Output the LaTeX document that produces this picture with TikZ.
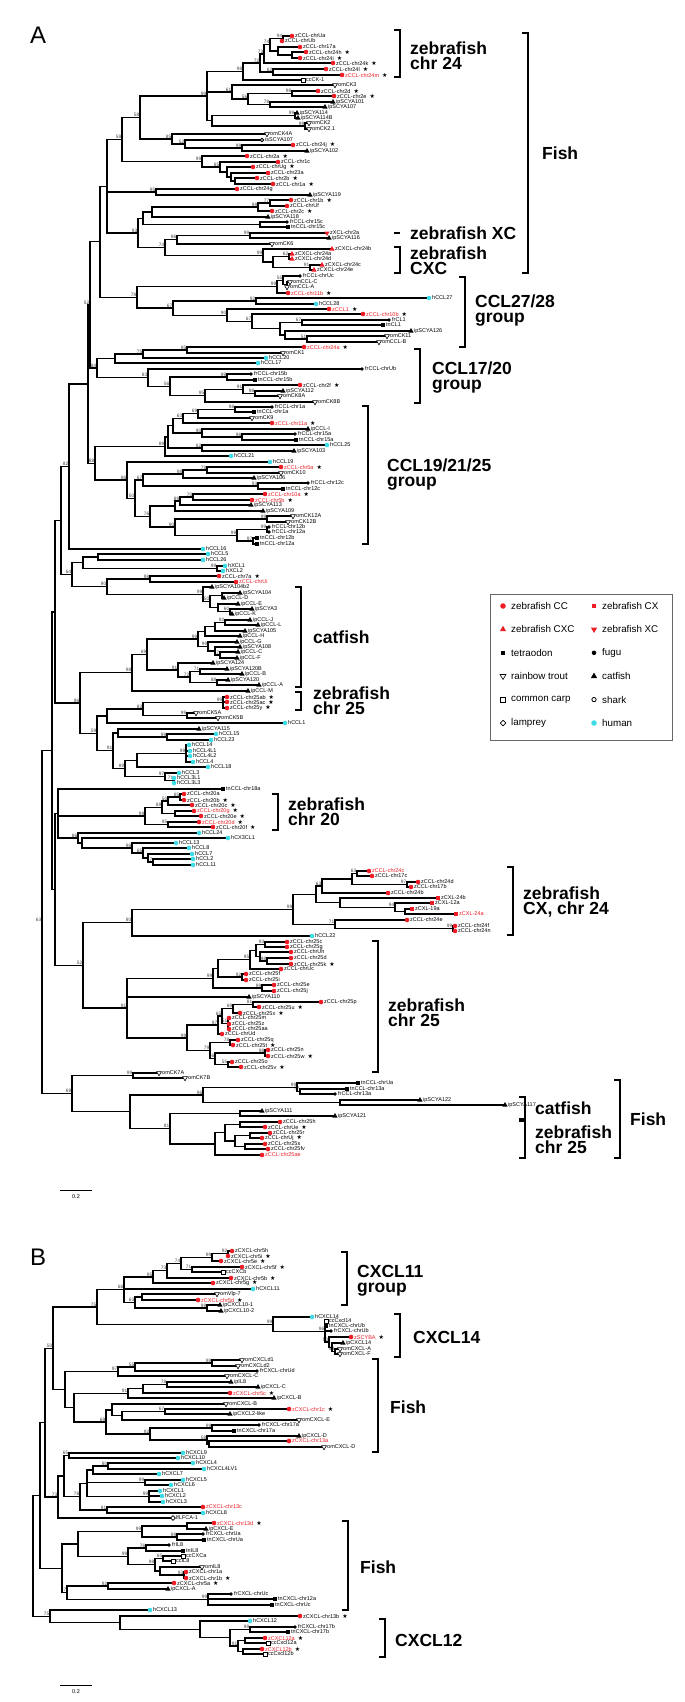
\documentclass[tikz,border=0pt]{standalone}
\usepackage{fontspec}
\setmainfont{Liberation Sans}
\newfontfamily\symfnt{DejaVu Sans}
\usetikzlibrary{calc, shapes.geometric}
\definecolor{zred}{HTML}{EE1C24}
\definecolor{hcyan}{HTML}{3CDCE6}
\definecolor{bsgray}{HTML}{444444}

% star after a leaf label
\newcommand\strk{\hspace{3pt}{\color{black}\symfnt\fontsize{6}{6}\selectfont ★}}
% internal node: name, x, bootstrap, first child, last child
\newcommand\clade[5]{%
  \path let \p1=($(#4)!.5!(#5)$) in (#2pt,\y1) coordinate (#1);
  \draw[br] (#1) |- (#4);
  \draw[br] (#1) |- (#5);
  \ifx\relax#3\relax\else\node[bs] (#1b) at (#1) {#3};\fi}
% group bracket: x, top, bottom
\newcommand\brk[3]{\draw[grpline] (#1-6,#2) -- (#1,#2) -- (#1,#3) -- (#1-6,#3);}

\def\leavesA{
a1/292/36/mzc/zCCL-chrUa/black, a2/282/41/mzc/zCCL-chrUb/black,
a3/300/47/mzc/zCCL-chr17a/black, a4/306/52/mzc/zCCL-chr24h\strk/black,
a5/300/58/mzc/zCCL-chr24i\strk/black, a6/333/63/mzc/zCCL-chr24k\strk/black,
a7/326/69/mzc/zCCL-chr24l\strk/black, a8/342/75/mzc/zCCL-chr24m\strk/zred,
a9/303/80/mcc/ccCK-1/black, a10/335/85/mom/omCK3/black,
a11/318/91/mzc/zCCL-chr2d\strk/black, a12/334/96/mzc/zCCL-chr2e\strk/black,
a13/333/102/mip/ipSCYA101/black, a14/325/107/mip/ipSCYA107/black,
a15/297/113/mip/ipSCYA114/black, a16/298/118/mip/ipSCYA114B/black,
a17/309/123/mom/omCK2/black, a18/309/129/mom/omCK2.1/black,
a19/267/134/mom/omCK4A/black, a20/262/140/msh/isSCYA107/black,
a21/293/145/mzc/zCCL-chr24j\strk/black, a22/307/151/mip/ipSCYA102/black,
a23/247/156/mzc/zCCL-chr2a\strk/black, a24/278/162/mzc/zCCL-chr1c/black,
a25/253/167/mzc/zCCL-chrUg\strk/black, a26/268/173/mzc/zCCL-chr23a/black,
a27/257/178/mzc/zCCL-chr2b\strk/black, a28/273/184/mzc/zCCL-chr1a\strk/black,
a29/237/189/mzc/zCCL-chr24g/black, a30/310/195/mip/ipSCYA119/black,
a31/291/200/mzc/zCCL-chr1b\strk/black, a32/287/206/mzc/zCCL-chrUf/black,
a33/272/211/mzc/zCCL-chr2c\strk/black, a34/268/217/mip/ipSCYA118/black,
a35/287/222/mfr/frCCL-chr15c/black, a36/288/227/mtn/tnCCL-chr15c/black,
a37/327/233/mzv/zXCL-chr2a/black, a38/329/238/mip/ipSCYA116/black,
a39/272/244/mom/omCK6/black, a40/332/249/mzt/zCXCL-chr24b/black,
a41/292/254/mzt/zCXCL-chr24a/black, a42/292/259/mzt/zCXCL-chr24d/black,
a43/322/265/mzt/zCXCL-chr24c/black, a44/314/270/mzt/zCXCL-chr24e/black,
a45/300/276/mfr/frCCL-chrUc/black, a46/290/282/mom/omCCL-C/black,
a47/287/287/mom/omCCL-A/black, a48/288/293/mzc/zCCL-chr11b\strk/zred,
a49/429/298/mhu/hCCL27/black, a50/316/304/mhu/hCCL28/black,
a51/329/309/mzc/zCCL1\strk/zred, a52/363/314/mzc/zCCL-chr10b\strk/zred,
a53/389/320/mfr/frCL1/black, a54/383/325/mtn/tnCL1/black,
a55/411/331/mip/ipSCYA126/black, a56/387/336/mom/omCK11/black,
a57/379/342/mom/omCCL-B/black, a58/304/347/mzc/zCCL-chr24a\strk/zred,
a59/283/353/mom/omCK1/black, a60/266/358/mhu/hCCL20/black,
a61/258/363/mhu/hCCL17/black, a62/362/369/mfr/frCCL-chrUb/black,
a63/251/374/mfr/frCCL-chr15b/black, a64/255/380/mtn/tnCCL-chr15b/black,
a65/300/385/mzc/zCCL-chr2f\strk/black, a66/283/391/mip/ipSCYA112/black,
a67/280/396/mom/omCK8A/black, a68/315/402/mom/omCK8B/black,
a69/272/407/mfr/frCCL-chr1a/black, a70/254/412/mtn/tnCCL-chr1a/black,
a71/252/418/mom/omCK9/black, a72/272/423/mzc/zCCL-chr11a\strk/zred,
a73/308/429/mip/ipCCL-I/black, a74/295/434/mfr/frCCL-chr15a/black,
a75/296/440/mtn/tnCCL-chr15a/black, a76/327/445/mhu/hCCL25/black,
a77/294/451/mip/ipSCYA103/black, a78/231/456/mhu/hCCL21/black,
a79/270/462/mhu/hCCL19/black, a80/281/467/mzc/zCCL-chr5a\strk/zred,
a81/281/473/mom/omCK10/black, a82/254/478/mip/ipSCYA106/black,
a83/308/483/mfr/frCCL-chr12c/black, a84/283/489/mtn/tnCCL-chr12c/black,
a85/265/494/mzc/zCCL-chr10a\strk/zred, a86/252/500/mzc/zCCL-chr5b\strk/zred,
a87/251/505/mip/ipSCYA113/black, a88/263/511/mip/ipSCYA109/black,
a89/293/516/mom/omCK12A/black, a90/288/522/mom/omCK12B/black,
a91/269/527/mfr/frCCL-chr12b/black, a92/269/532/mfr/frCCL-chr12a/black,
a93/257/538/mtn/tnCCL-chr12b/black, a94/257/544/mtn/tnCCL-chr12a/black,
a95/203/549/mhu/hCCL16/black, a96/208/554/mhu/hCCL5/black,
a97/203/560/mhu/hCCL26/black, a98/225/566/mhu/hXCL1/black,
a99/223/571/mhu/hXCL2/black, a100/219/576/mzc/zCCL-chr7a\strk/black,
a101/236/582/mzc/zCCL-chrUi/zred, a102/212/587/mip/ipSCYA104b2/black,
a103/240/593/mip/ipSCYA104/black, a104/224/598/mip/ipCCL-D/black,
a105/238/604/mip/ipCCL-E/black, a106/252/609/mip/ipSCYA3/black,
a107/232/614/mip/ipCCL-K/black, a108/250/620/mip/ipCCL-J/black,
a109/258/625/mip/ipCCL-L/black, a110/245/631/mip/ipSCYA105/black,
a111/240/636/mip/ipCCL-H/black, a112/237/642/mip/ipCCL-G/black,
a113/240/647/mip/ipSCYA108/black, a114/238/652/mip/ipCCL-C/black,
a115/237/658/mip/ipCCL-F/black, a116/213/663/mip/ipSCYA124/black,
a117/227/669/mip/ipSCYA120B/black, a118/242/674/mip/ipCCL-B/black,
a119/228/680/mip/ipSCYA120/black, a120/259/685/mip/ipCCL-A/black,
a121/248/691/mip/ipCCL-M/black, a122/227/697/mzc/zCCL-chr25ab\strk/black,
a123/227/702/mzc/zCCL-chr25ac\strk/black, a124/227/708/mzc/zCCL-chr25y\strk/black,
a125/196/713/mom/omCK5A/black, a126/218/718/mom/omCK5B/black,
a127/285/723/mhu/hCCL1/black, a128/199/729/mip/ipSCYA115/black,
a129/216/734/mhu/hCCL15/black, a130/211/740/mhu/hCCL23/black,
a131/189/745/mhu/hCCL14/black, a132/190/751/mhu/hCCL4L1/black,
a133/190/756/mhu/hCCL4L2/black, a134/193/762/mhu/hCCL4/black,
a135/208/767/mhu/hCCL18/black, a136/179/773/mhu/hCCL3/black,
a137/174/778/mhu/hCCL3L1/black, a138/174/783/mhu/hCCL3L3/black,
a139/223/789/mtn/tnCCL-chr18a/black, a140/184/794/mzc/zCCL-chr20a/black,
a141/184/800/mzc/zCCL-chr20b\strk/black, a142/192/805/mzc/zCCL-chr20c\strk/black,
a143/194/811/mzc/zCCL-chr20g\strk/zred, a144/201/816/mzc/zCCL-chr20e\strk/black,
a145/199/822/mzc/zCCL-chr20d\strk/zred, a146/213/827/mzc/zCCL-chr20f\strk/black,
a147/199/833/mhu/hCCL24/black, a148/228/838/mhu/hCX3CL1/black,
a149/176/843/mhu/hCCL13/black, a150/189/848/mhu/hCCL8/black,
a151/192/854/mhu/hCCL7/black, a152/193/859/mhu/hCCL2/black,
a153/193/865/mhu/hCCL11/black, a154/369/871/mzc/zCCL-chr24c/zred,
a155/372/876/mzc/zCCL-chr17c/black, a156/418/882/mzc/zCCL-chr24d/black,
a157/411/887/mzc/zCCL-chr17b/black, a158/388/893/mzc/zCCL-chr24b/black,
a159/438/898/mzx/zCXL-24b/black, a160/432/903/mzx/zCXL-12a/black,
a161/412/909/mzx/zCXL-19a/black, a162/456/914/mzx/zCXL-24a/zred,
a163/407/920/mzc/zCCL-chr24e/black, a164/455/926/mzc/zCCL-chr24f/black,
a165/455/931/mzc/zCCL-chr24n/black, a166/312/936/mhu/hCCL22/black,
a167/287/942/mzc/zCCL-chr25c/black, a168/287/947/mzc/zCCL-chr25g/black,
a169/291/952/mzc/zCCL-chrUh/black, a170/291/958/mzc/zCCL-chr25d/black,
a171/291/964/mzc/zCCL-chr25k\strk/black, a172/281/969/mzc/zCCL-chrUc/black,
a173/246/974/mzc/zCCL-chr25f/black, a174/246/980/mzc/zCCL-chr25i/black,
a175/274/985/mzc/zCCL-chr25e/black, a176/274/991/mzc/zCCL-chr25j/black,
a177/249/997/mip/ipSCYA110/black, a178/321/1002/mzc/zCCL-chr25p/black,
a179/259/1007/mzc/zCCL-chr25u\strk/black, a180/240/1013/mzc/zCCL-chr25x\strk/black,
a181/229/1018/mzc/zCCL-chr25m/black, a182/229/1024/mzc/zCCL-chr25z/black,
a183/229/1029/mzc/zCCL-chr25aa/black, a184/222/1034/mzc/zCCL-chrUd/black,
a185/238/1040/mzc/zCCL-chr25q/black, a186/233/1045/mzc/zCCL-chr25t\strk/black,
a187/268/1050/mzc/zCCL-chr25n/black, a188/268/1056/mzc/zCCL-chr25w\strk/black,
a189/232/1062/mzc/zCCL-chr25o/black, a190/241/1067/mzc/zCCL-chr25v\strk/black,
a191/159/1073/mom/omCK7A/black, a192/185/1078/mom/omCK7B/black,
a193/358/1083/mtn/tnCCL-chrUa/black, a194/347/1089/mtn/tnCCL-chr13a/black,
a195/335/1094/mfr/frCCL-chr13a/black, a196/420/1100/mip/ipSCYA122/black,
a197/505/1105/mip/ipSCYA117/black, a198/262/1111/mip/ipSCYA111/black,
a199/335/1116/mip/ipSCYA121/black, a200/280/1122/mzc/zCCL-chr25h/black,
a201/265/1127/mzc/zCCL-chrUe\strk/black, a202/270/1133/mzc/zCCL-chr25r/black,
a203/262/1138/mzc/zCCL-chrUj\strk/black, a204/265/1144/mzc/zCCL-chr25s/black,
a205/268/1149/mzc/zCCL-chr25fv/black, a206/262/1155/mzc/zCCL-chr25ae/zred}

\def\leavesB{
b1/232/1251/mzc/zCXCL-chr5h/black, b2/228/1256/mzc/zCXCL-chr5i\strk/black,
b3/221/1261/mzc/zCXCL-chr5e\strk/black, b4/242/1267/mzc/zCXCL-chr5f\strk/black,
b5/223/1272/mcc/ccCXCb/black, b6/231/1278/mzc/zCXCL-chr5b\strk/black,
b7/213/1283/mzc/zCXCL-chr5g\strk/black, b8/253/1289/mhu/hCXCL11/black,
b9/217/1294/mom/omVlp-7/black, b10/198/1300/mzc/zCXCL-chr5d\strk/zred,
b11/220/1305/mip/ipCXCL10-1/black, b12/221/1311/mip/ipCXCL10-2/black,
b13/312/1317/mhu/hCXCL14/black, b14/326/1321/mcc/ccCxcl14/black,
b15/326/1326/mtn/tnCXCL-chrUb/black, b16/331/1331/mfr/frCXCL-chrUb/black,
b17/351/1337/mzc/zSCYBA\strk/zred, b18/343/1343/mip/ipCXCL14/black,
b19/340/1349/mom/omCXCL-A/black, b20/340/1354/mom/omCXCL-F/black,
b21/242/1360/mom/omCXCLd1/black, b22/238/1366/mom/omCXCLd2/black,
b23/257/1371/mfr/frCXCL-chrUd/black, b24/227/1376/mom/omCXCL-C/black,
b25/231/1382/mip/ipIL8/black, b26/258/1387/mip/ipCXCL-C/black,
b27/230/1393/mzc/zCXCL-chr5c\strk/zred, b28/274/1398/mip/ipCXCL-B/black,
b29/226/1404/mom/omCXCL-B/black, b30/289/1409/mzc/zCXCL-chr1c\strk/zred,
b31/230/1414/mip/ipCXCL2-like/black, b32/299/1420/mom/omCXCL-E/black,
b33/259/1425/mfr/frCXCL-chr17a/black, b34/234/1431/mtn/tnCXCL-chr17a/black,
b35/299/1436/mip/ipCXCL-D/black, b36/289/1441/mzc/zCXCL-chr13a/zred,
b37/324/1447/mom/omCXCL-D/black, b38/183/1453/mhu/hCXCL9/black,
b39/178/1458/mhu/hCXCL10/black, b40/193/1463/mhu/hCXCL4/black,
b41/204/1469/mhu/hCXCL4LV1/black, b42/159/1474/mhu/hCXCL7/black,
b43/183/1480/mhu/hCXCL5/black, b44/171/1485/mhu/hCXCL6/black,
b45/160/1491/mhu/hCXCL1/black, b46/162/1496/mhu/hCXCL2/black,
b47/163/1502/mhu/hCXCL3/black, b48/203/1507/mzc/zCXCL-chr13c/zred,
b49/203/1513/mhu/hCXCL8/black, b50/173/1518/mlf/lfLFCA-1/black,
b51/214/1523/mzc/zCXCL-chr13d\strk/zred, b52/206/1529/mip/ipCXCL-E/black,
b53/203/1534/mfr/frCXCL-chrUa/black, b54/204/1540/mtn/tnCXCL-chrUa/black,
b55/169/1545/mfr/frIL8/black, b56/183/1551/mtn/tnIL8/black,
b57/183/1556/mcc/ccCXCa/black, b58/173/1561/mcc/ccIL8/black,
b59/202/1567/mom/omIL8/black, b60/186/1572/mzc/zCXCL-chr1a/black,
b61/186/1578/mzc/zCXCL-chr1b\strk/black, b62/174/1583/mzc/zCXCL-chr5a\strk/black,
b63/168/1589/mip/ipCXCL-A/black, b64/231/1594/mfr/frCXCL-chrUc/black,
b65/275/1599/mtn/tnCXCL-chr12a/black, b66/272/1605/mtn/tnCXCL-chrUc/black,
b67/150/1610/mhu/hCXCL13/black, b68/300/1616/mzc/zCXCL-chr13b\strk/black,
b69/250/1621/mhu/hCXCL12/black, b70/295/1627/mfr/frCXCL-chr17b/black,
b71/288/1632/mtn/tnCXCL-chr17b/black, b72/265/1638/mzc/zCXCL12a\strk/zred,
b73/268/1643/mcc/ccCxcl12a/black, b74/262/1649/mzc/zCXCL12b\strk/zred,
b75/265/1654/mcc/ccCxcl12b/black}

\begin{document}
\begin{tikzpicture}[
    x=1pt, y=-1pt,
    br/.style={line width=1.35pt, line join=miter},
    bs/.style={anchor=south east, inner sep=0.6pt, text=bsgray,
               font=\fontsize{4.8}{5}\selectfont},
    lab/.style={anchor=west, inner sep=0pt, font=\fontsize{5.5}{6}\selectfont},
    mk/.style={inner sep=0pt, outer sep=0pt},
    mzc/.style={mk, circle, fill=zred, minimum size=4.6pt},
    mhu/.style={mk, circle, fill=hcyan, minimum size=4.6pt},
    mfr/.style={mk, circle, fill=black, minimum size=3.8pt},
    msh/.style={mk, circle, draw=black, fill=white, line width=0.8pt, minimum size=3.6pt},
    mzx/.style={mk, rectangle, fill=zred, minimum size=4pt},
    mtn/.style={mk, rectangle, fill=black, minimum size=3.6pt},
    mcc/.style={mk, rectangle, draw=black, fill=white, line width=0.7pt, minimum size=3.8pt},
    tri/.style={mk, regular polygon, regular polygon sides=3, minimum size=6pt},
    mzt/.style={tri, fill=zred},
    mip/.style={tri, fill=black},
    mzv/.style={tri, fill=zred, shape border rotate=180},
    mom/.style={tri, draw=black, fill=white, line width=0.6pt,
                shape border rotate=180, minimum size=5.6pt},
    mlf/.style={mk, diamond, draw=black, fill=white, line width=0.7pt, minimum size=4.6pt},
    grpline/.style={line width=2.2pt},
    grp/.style={anchor=west, align=left, inner sep=0pt,
                font=\bfseries\fontsize{17.5}{15}\selectfont},
    panel/.style={anchor=west, inner sep=0pt, font=\fontsize{24}{24}\selectfont},
    legtxt/.style={anchor=west, inner sep=0pt, font=\fontsize{9.8}{10}\selectfont},
  ]
  \useasboundingbox[fill=white] (0,0) rectangle (685,1702);

  % ---- leaf tips ----
  \foreach \n/\x/\y/\m/\t/\c in \leavesA {\coordinate (\n) at (\x,\y);}
  \foreach \n/\x/\y/\m/\t/\c in \leavesB {\coordinate (\n) at (\x,\y);}

  % ---- panel A: fish clade ----
  \clade{i1}{283}{94}{a1}{a2}
  \clade{i2}{292}{}{a4}{a5}
  \clade{i3}{278}{}{a3}{i2}
  \clade{i4}{270}{74}{i1}{i3}
  \clade{i5}{264}{73}{i4}{a6}
  \clade{i6}{273}{62}{a7}{a8}
  \clade{i7}{260}{72}{i5}{i6}
  \clade{i8}{243}{98}{i7}{a9}
  \clade{i9}{292}{98}{a11}{a12}
  \clade{i10}{270}{78}{a13}{a14}
  \clade{i11}{248}{56}{i9}{i10}
  \clade{i12}{232}{61}{a10}{i11}
  \clade{i13}{295}{99}{a15}{a16}
  \clade{i14}{305}{99}{a17}{a18}
  \clade{i15}{212}{}{i13}{i14}
  \clade{i16}{207}{99}{i8}{i15}
  \draw[br] (i16) |- (i12);
  \clade{i17}{242}{99}{a21}{a22}
  \clade{i18}{185}{52}{a20}{i17}
  \clade{i19}{172}{85}{a19}{i18}
  \clade{i20}{140}{58}{i16}{i19}
  \clade{i21}{235}{}{a27}{a28}
  \clade{i22}{231}{}{a26}{i21}
  \clade{i23}{227}{}{a25}{i22}
  \clade{i24}{220}{85}{a24}{i23}
  \clade{i25}{202}{99}{a23}{i24}
  \clade{i26}{122}{59}{i20}{i25}
  \clade{i27}{156}{95}{a29}{a30}
  \clade{i28}{270}{77}{a31}{a32}
  \clade{i29}{258}{99}{i28}{a33}
  \clade{i30}{152}{}{i29}{a34}
  \clade{i31}{260}{}{a35}{a36}
  \clade{i32}{143}{}{i30}{i31}
  \clade{i33}{250}{99}{a37}{a38}
  \clade{i34}{177}{96}{i33}{a39}
  \clade{i35}{289}{62}{a41}{a42}
  \clade{i36}{310}{91}{a43}{a44}
  \clade{i37}{273}{}{i35}{i36}
  \clade{i38}{263}{99}{a40}{i37}
  \clade{i39}{165}{74}{i34}{i38}
  \clade{i40}{138}{93}{i32}{i39}
  \clade{i41}{107}{}{i26}{i40}
  \draw[br] (i41) |- (i27);

  % ---- CCL27/28 ----
  \clade{j1}{287}{}{a46}{a47}
  \clade{j2}{283}{55}{a45}{j1}
  \clade{j3}{277}{99}{j2}{a48}
  \clade{j4}{256}{92}{a49}{a50}
  \clade{j5}{302}{67}{a53}{a54}
  \clade{j6}{307}{51}{a56}{a57}
  \clade{j7}{285}{}{a55}{j6}
  \clade{j8}{280}{}{j5}{j7}
  \clade{j9}{252}{67}{a52}{j8}
  \clade{j10}{227}{90}{a51}{j9}
  \clade{j11}{173}{67}{j4}{j10}
  \clade{j12}{137}{78}{j3}{j11}
  \clade{i42}{100}{}{i41}{j12}

  % ---- CCL17/20 ----
  \clade{k1}{187}{85}{a58}{a59}
  \clade{k2}{143}{75}{k1}{a60}
  \clade{k3}{115}{}{k2}{a61}
  \clade{k4}{227}{99}{a63}{a64}
  \clade{k5}{255}{98}{a66}{a67}
  \clade{k6}{243}{91}{a65}{k5}
  \clade{k7}{205}{95}{k6}{a68}
  \clade{k8}{170}{56}{k4}{k7}
  \clade{k9}{148}{83}{a62}{k8}
  \clade{k10}{97}{84}{k3}{k9}
  \clade{m1}{90}{52}{i42}{k10}

  % ---- CCL19/21/25 ----
  \clade{l1}{235}{98}{a69}{a70}
  \clade{l2}{198}{69}{l1}{a71}
  \clade{l3}{183}{63}{l2}{a72}
  \clade{l4}{242}{96}{a74}{a75}
  \clade{l5}{202}{90}{a73}{l4}
  \clade{l6}{173}{}{l3}{l5}
  \clade{l7}{202}{82}{a76}{a77}
  \clade{l8}{168}{}{l6}{l7}
  \clade{l9}{165}{89}{l8}{a78}
  \clade{l10}{207}{78}{a80}{a81}
  \clade{l11}{183}{98}{l10}{a82}
  \clade{l12}{258}{93}{a83}{a84}
  \clade{l13}{143}{67}{l11}{l12}
  \clade{l14}{193}{70}{a85}{a86}
  \clade{l15}{180}{89}{l14}{a87}
  \clade{l16}{175}{}{l15}{a88}
  \clade{l17}{267}{99}{a89}{a90}
  \clade{l18}{267}{99}{a91}{a92}
  \clade{l19}{253}{97}{a93}{a94}
  \clade{l20}{237}{99}{l18}{l19}
  \clade{l21}{175}{90}{l17}{l20}
  \clade{l22}{150}{76}{l16}{l21}
  \clade{l23}{135}{50}{l13}{l22}
  \clade{l24}{127}{86}{a79}{l23}
  \clade{l25}{95}{88}{l9}{l24}
  \clade{m2}{88}{}{m1}{l25}
  \clade{m3}{69}{82}{m2}{a95}

  % ---- hCCL5 / catfish / human CCL ----
  \clade{p1}{98}{}{a96}{a97}
  \clade{p2}{217}{99}{a98}{a99}
  \clade{p3}{83}{}{p1}{p2}
  \clade{p4}{150}{98}{a100}{a101}
  \clade{c1}{222}{}{a103}{a104}
  \clade{c2}{230}{60}{a106}{a107}
  \clade{c3}{218}{}{a105}{c2}
  \clade{c4}{210}{50}{c1}{c3}
  \clade{c5}{203}{99}{a102}{c4}
  \clade{p5}{107}{90}{p4}{c5}
  \clade{p6}{72}{64}{p3}{p5}
  \clade{m4}{61}{}{m3}{p6}
  \clade{c6}{225}{92}{a108}{a109}
  \clade{c7}{215}{}{c6}{a110}
  \clade{c8}{205}{}{c7}{a111}
  \clade{c9}{220}{57}{a114}{a115}
  \clade{c10}{215}{}{a113}{c9}
  \clade{c11}{208}{99}{a112}{c10}
  \clade{c12}{198}{99}{c8}{c11}
  \clade{c13}{200}{71}{a117}{a118}
  \clade{c14}{217}{88}{a119}{a120}
  \clade{c15}{190}{72}{c13}{c14}
  \clade{c16}{178}{91}{a116}{c15}
  \clade{c17}{147}{69}{c12}{c16}
  \clade{c18}{132}{98}{c17}{a121}
  \clade{c19}{223}{99}{a122}{a124}
  \draw[br] (c19) |- (a123);
  \clade{c20}{187}{99}{a125}{a126}
  \clade{c21}{143}{83}{c19}{c20}
  \clade{c22}{107}{}{c21}{a127}
  \clade{h1}{167}{99}{a129}{a130}
  \clade{h2}{118}{}{a128}{h1}
  \clade{h3}{186}{99}{a131}{a134}
  \draw[br] (h3) |- (a132);
  \draw[br] (h3) |- (a133);
  \clade{h4}{137}{}{h3}{a135}
  \clade{h5}{174}{71}{a137}{a138}
  \clade{h6}{165}{97}{a136}{h5}
  \clade{h7}{125}{89}{h4}{h6}
  \clade{h8}{113}{91}{h2}{h7}
  \clade{c23}{97}{59}{c22}{h8}
  \clade{c24}{80}{96}{c18}{c23}
  \clade{m5}{55}{}{m4}{c24}

  % ---- chr20 / CX chr24 / chr25 ----
  \clade{d1}{180}{85}{a140}{a141}
  \clade{d2}{168}{50}{d1}{a142}
  \clade{d3}{175}{}{a143}{a144}
  \clade{d4}{162}{89}{d2}{d3}
  \clade{d5}{168}{95}{a145}{a146}
  \clade{d6}{145}{99}{d4}{d5}
  \clade{d7}{153}{57}{a152}{a153}
  \clade{d8}{148}{}{a151}{d7}
  \clade{d9}{143}{65}{a150}{d8}
  \clade{d10}{132}{98}{a149}{d9}
  \clade{d11}{82}{}{a148}{d10}
  \clade{d12}{78}{86}{a147}{d11}
  \clade{d13}{58}{}{a139}{d12}
  \draw[br] (d13) |- (d6);
  \clade{x1}{357}{63}{a154}{a155}
  \clade{x2}{407}{97}{a156}{a157}
  \clade{x3}{352}{}{x1}{x2}
  \clade{x4}{322}{63}{x3}{a158}
  \clade{x5}{405}{}{a161}{a162}
  \clade{x6}{395}{94}{a160}{x5}
  \clade{x7}{340}{}{a159}{x6}
  \clade{x8}{316}{}{x4}{x7}
  \clade{x9}{453}{99}{a164}{a165}
  \clade{x10}{335}{71}{a163}{x9}
  \clade{x11}{293}{99}{x8}{x10}
  \clade{x12}{132}{80}{x11}{a166}
  \clade{z1}{265}{93}{a167}{a168}
  \clade{z2}{267}{98}{a170}{a171}
  \clade{z3}{260}{}{a169}{z2}
  \clade{z4}{256}{}{z1}{z3}
  \clade{z5}{250}{95}{z4}{a172}
  \clade{z6}{242}{92}{a173}{a174}
  \clade{z7}{218}{}{z5}{z6}
  \clade{z8}{262}{99}{a175}{a176}
  \clade{z9}{213}{99}{z7}{z8}
  \clade{z10}{253}{81}{a178}{a179}
  \clade{z11}{233}{69}{z10}{a180}
  \clade{z12}{228}{51}{a181}{a183}
  \draw[br] (z12) |- (a182);
  \clade{z13}{222}{65}{z11}{z12}
  \clade{z14}{218}{97}{z13}{a184}
  \clade{z15}{230}{78}{a185}{a186}
  \clade{z16}{265}{98}{a187}{a188}
  \clade{z17}{228}{55}{a189}{a190}
  \clade{z18}{215}{56}{z16}{z17}
  \clade{z19}{210}{79}{z15}{z18}
  \clade{z20}{187}{99}{z14}{z19}
  \clade{z21}{127}{91}{z9}{z20}
  \draw[br] (z21) |- (a177);
  \clade{z22}{83}{52}{x12}{z21}
  \clade{m6}{55}{}{d13}{z22}
  \clade{m7}{52}{}{m5}{m6}

  % ---- bottom of panel A ----
  \clade{q0}{133}{99}{a191}{a192}
  \clade{q1}{300}{77}{a194}{a195}
  \clade{q2}{297}{99}{a193}{q1}
  \clade{q3}{340}{}{a196}{a197}
  \clade{q4}{203}{96}{q2}{q3}
  \clade{q5}{240}{}{a198}{a199}
  \clade{q6}{240}{}{a200}{a201}
  \clade{q7}{250}{}{a202}{a203}
  \clade{q8}{245}{}{a204}{a205}
  \clade{q9}{235}{}{q7}{q8}
  \clade{q10}{225}{}{q6}{q9}
  \clade{q11}{215}{}{q10}{a206}
  \clade{q12}{170}{81}{q5}{q11}
  \clade{q13}{130}{}{q4}{q12}
  \clade{q14}{72}{69}{q0}{q13}
  \clade{ra}{42}{63}{m7}{q14}

  % ---- panel B ----
  \clade{r1}{228}{92}{b1}{b2}
  \clade{r2}{212}{99}{r1}{b3}
  \clade{r3}{192}{71}{b4}{b5}
  \clade{r4}{181}{74}{r2}{r3}
  \clade{r5}{167}{73}{r4}{b6}
  \clade{r6}{153}{95}{r5}{b7}
  \clade{r7}{142}{}{b9}{b10}
  \clade{r8}{207}{99}{b11}{b12}
  \clade{r9}{135}{63}{r7}{r8}
  \clade{r10}{124}{66}{r6}{r9}
  \draw[br] (r10) |- (b8);
  \clade{s1}{335}{53}{b19}{b20}
  \clade{s2}{332}{}{b18}{s1}
  \clade{s3}{329}{50}{b17}{s2}
  \clade{s4}{325}{96}{b14}{s3}
  \draw[br] (s4) |- (b15);
  \draw[br] (s4) |- (b16);
  \clade{s5}{273}{99}{b13}{s4}
  \clade{r11}{97}{75}{r10}{s5}
  \clade{t1}{212}{99}{b21}{b22}
  \clade{t2}{135}{55}{t1}{b23}
  \clade{t3}{118}{97}{t2}{b24}
  \clade{t4}{167}{78}{b25}{b26}
  \clade{t5}{143}{}{t4}{b27}
  \clade{t6}{128}{91}{t5}{b28}
  \clade{t7}{165}{67}{b30}{b31}
  \clade{t8}{122}{}{t7}{b32}
  \clade{t9}{112}{}{b29}{t8}
  \clade{t10}{212}{99}{b33}{b34}
  \clade{t11}{209}{}{b36}{b37}
  \clade{t12}{207}{58}{b35}{t11}
  \clade{t13}{150}{92}{t10}{t12}
  \clade{t14}{106}{69}{t9}{t13}
  \clade{t15}{74}{}{t6}{t14}
  \clade{t16}{65}{}{t3}{t15}
  \clade{r12}{53}{50}{r11}{t16}
  \clade{u1}{69}{65}{b38}{b39}
  \clade{u2}{108}{80}{b40}{b41}
  \clade{u3}{93}{}{u2}{b42}
  \clade{u4}{145}{99}{b43}{b44}
  \clade{u5}{149}{99}{b45}{b47}
  \draw[br] (u5) |- (b46);
  \clade{u6}{87}{}{u3}{u5}
  \draw[br] (u6) |- (u4);
  \clade{u7}{107}{81}{b48}{b49}
  \clade{u8}{80}{78}{u6}{u7}
  \clade{u9}{64}{}{u1}{u8}
  \clade{u10}{58}{73}{u9}{b50}
  \clade{v1}{187}{}{b51}{b52}
  \clade{v2}{177}{99}{b53}{b54}
  \clade{v3}{142}{99}{v1}{v2}
  \clade{v4}{146}{76}{b55}{b56}
  \clade{v5}{163}{65}{b57}{b58}
  \clade{v6}{184}{93}{b60}{b61}
  \clade{v7}{160}{}{b59}{v6}
  \clade{v8}{155}{98}{v5}{v7}
  \clade{v9}{128}{99}{v4}{v8}
  \clade{v10}{78}{}{v3}{v9}
  \clade{v11}{108}{92}{b62}{b63}
  \clade{v12}{208}{99}{b64}{b66}
  \draw[br] (v12) |- (b65);
  \clade{v13}{67}{57}{v11}{v12}
  \clade{v14}{62}{}{v10}{v13}
  \clade{w1}{250}{99}{b70}{b71}
  \clade{w2}{245}{}{b72}{b73}
  \clade{w3}{243}{}{b74}{b75}
  \clade{w4}{238}{91}{w2}{w3}
  \clade{w5}{230}{}{w1}{w4}
  \clade{w6}{200}{}{b69}{w5}
  \clade{w7}{120}{}{b68}{w6}
  \clade{w8}{50}{75}{b67}{w7}
  \clade{rb1}{45}{}{r12}{u10}
  \clade{rb2}{40}{}{rb1}{v14}
  \clade{rb3}{33}{}{rb2}{w8}

  % ---- markers and names ----
  \foreach \n/\x/\y/\m/\t/\c in \leavesA {
    \node[\m] (\n-m) at (\n) {};
    \node[lab, text=\c] (\n-t) at ([xshift=3pt]\n) {\t};
  }
  \foreach \n/\x/\y/\m/\t/\c in \leavesB {
    \node[\m] (\n-m) at (\n) {};
    \node[lab, text=\c] (\n-t) at ([xshift=3pt]\n) {\t};
  }

  % ---- group brackets, panel A ----
  \brk{400}{30}{77}
  \node[grp] (g1) at (410,56) {zebrafish\\chr 24};
  \brk{528}{33}{273}
  \node[grp] (g2) at (542,153) {Fish};
  \draw[grpline] (394,233) -- (400,233);
  \node[grp] (g3) at (410,233) {zebrafish XC};
  \brk{400}{247}{273}
  \node[grp] (g4) at (410,261) {zebrafish\\CXC};
  \brk{465}{277}{347}
  \node[grp] (g5) at (475,311) {CCL27/28\\group};
  \brk{420}{349}{403}
  \node[grp] (g6) at (432,378) {CCL17/20\\group};
  \brk{368}{406}{544}
  \node[grp] (g7) at (387,475) {CCL19/21/25\\group};
  \brk{301}{587}{687}
  \node[grp] (g8) at (313,637) {catfish};
  \brk{301}{692}{710}
  \node[grp] (g9) at (313,701) {zebrafish\\chr 25};
  \brk{278}{794}{830}
  \node[grp] (g10) at (288,812) {zebrafish\\chr 20};
  \brk{513}{867}{935}
  \node[grp] (g11) at (523,902) {zebrafish\\CX, chr 24};
  \brk{378}{941}{1072}
  \node[grp] (g12) at (388,1013) {zebrafish\\chr 25};
  \brk{525}{1097}{1119}
  \node[grp] (g13) at (535,1108) {catfish};
  \brk{525}{1121}{1158}
  \node[grp] (g14) at (535,1140) {zebrafish\\chr 25};
  \brk{620}{1080}{1158}
  \node[grp] (g15) at (630,1119) {Fish};

  % ---- group brackets, panel B ----
  \brk{347}{1252}{1305}
  \node[grp] (g16) at (357,1281) {CXCL11\\group};
  \brk{400}{1314}{1357}
  \node[grp] (g17) at (413,1337) {CXCL14};
  \brk{378}{1359}{1452}
  \node[grp] (g18) at (390,1407) {Fish};
  \brk{348}{1521}{1610}
  \node[grp] (g19) at (360,1567) {Fish};
  \brk{385}{1619}{1657}
  \node[grp] (g20) at (395,1640) {CXCL12};

  % ---- panel letters and scale bars ----
  \node[panel] (pa) at (30,35) {A};
  \node[panel] (pb) at (30,1257) {B};
  \draw[line width=0.8pt] (60,1190) -- (92,1190);
  \node[lab, anchor=north] (sa) at (76,1194) {0.2};
  \draw[line width=0.8pt] (60,1685) -- (92,1685);
  \node[lab, anchor=north] (sb) at (76,1689) {0.2};

  % ---- legend ----
  \draw[black!60, line width=0.6pt] (490,594) rectangle (672,740);
  \foreach \m/\t/\i/\j in {mzc/zebrafish CC/0/0, mzx/zebrafish CX/1/0,
      mzt/zebrafish CXC/0/1, mzv/zebrafish XC/1/1, mtn/tetraodon/0/2,
      mfr/fugu/1/2, mom/rainbow trout/0/3, mip/catfish/1/3,
      mcc/common carp/0/4, msh/shark/1/4, mlf/lamprey/0/5, mhu/human/1/5} {
    \node[\m, scale=1.2] (lg\i\j) at (503+\i*91, 606+\j*23.4) {};
    \node[legtxt] (lt\i\j) at (511+\i*91, 606+\j*23.4) {\t};
  }
\end{tikzpicture}
\end{document}
